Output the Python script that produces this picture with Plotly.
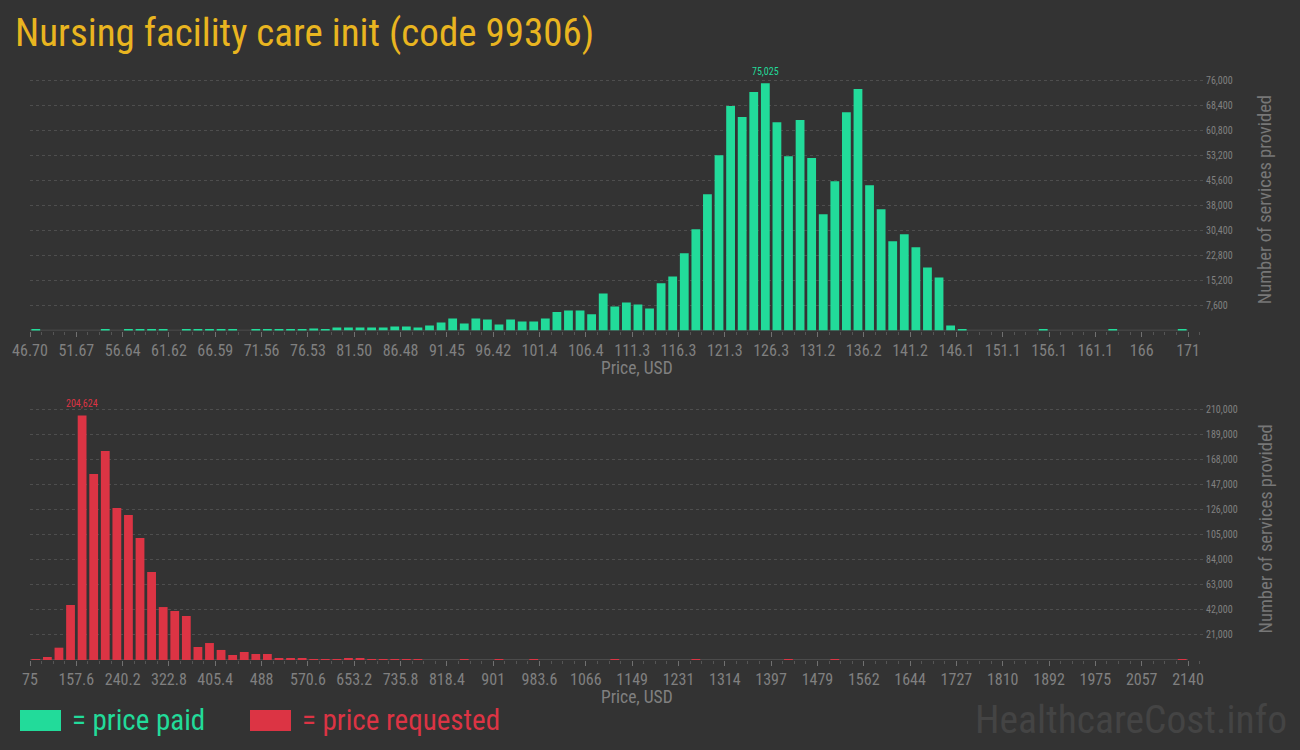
import plotly.graph_objects as go

# ---------------- data ----------------
title_text = "Nursing facility care init (code 99306)"

paid_bin_start = 46.70
paid_bin_end = 171.0
paid_counts = [
    250, 0, 0, 0, 0, 0, 250, 0, 250, 250,
    250, 250, 0, 250, 250, 250, 250, 250, 0, 250,
    250, 250, 250, 250, 600, 300, 900, 900, 900, 900,
    900, 1200, 1200, 900, 1500, 2400, 3650, 2150, 3650, 3350,
    1850, 3350, 2750, 2750, 3650, 5600, 6100, 6100, 4900, 11250,
    7300, 8500, 7900, 6700, 14300, 16400, 23400, 30700, 41300, 53200,
    68100, 64750, 72350, 75025, 63200, 52900, 63850, 52300, 35250, 45300,
    66250, 73250, 44100, 36800, 27050, 29200, 25250, 19150, 16100, 1500,
    300, 0, 0, 0, 0, 0, 0, 300, 0, 0,
    0, 0, 0, 300, 0, 0, 0, 0, 0, 300,
]
paid_tick_labels = ["46.70", "51.67", "56.64", "61.62", "66.59", "71.56", "76.53",
                    "81.50", "86.48", "91.45", "96.42", "101.4", "106.4", "111.3",
                    "116.3", "121.3", "126.3", "131.2", "136.2", "141.2", "146.1",
                    "151.1", "156.1", "161.1", "166", "171"]
paid_y_ticks = [7600, 15200, 22800, 30400, 38000, 45600, 53200, 60800, 68400, 76000]

req_bin_start = 75.0
req_bin_end = 2140.0
req_counts = [
    800, 2500, 10300, 46000, 204624, 155600, 174900, 127200, 121300, 102100,
    73600, 44300, 41000, 36800, 10900, 14200, 8400, 4200, 6700, 5000,
    5000, 1700, 1700, 1700, 700, 700, 700, 1700, 1700, 700,
    700, 700, 800, 800, 0, 0, 0, 800, 0, 0,
    800, 0, 0, 800, 0, 0, 0, 0, 0, 0,
    800, 0, 0, 0, 0, 0, 0, 800, 0, 0,
    0, 0, 0, 0, 0, 800, 0, 0, 0, 800,
    0, 0, 0, 0, 0, 0, 0, 0, 0, 0,
    0, 0, 0, 0, 0, 0, 0, 0, 0, 0,
    0, 0, 0, 0, 0, 0, 0, 0, 0, 800,
]
req_tick_labels = ["75", "157.6", "240.2", "322.8", "405.4", "488", "570.6", "653.2",
                   "735.8", "818.4", "901", "983.6", "1066", "1149", "1231", "1314",
                   "1397", "1479", "1562", "1644", "1727", "1810", "1892", "1975",
                   "2057", "2140"]
req_y_ticks = [21000, 42000, 63000, 84000, 105000, 126000, 147000, 168000, 189000, 210000]

# ---------------- style ----------------
W, H = 1300, 750
BG = "#333333"
GREEN = "#22DB9A"
RED = "#DC3444"
GOLD = "#E9B520"
GRAY = "#808080"
FONT = "Roboto Condensed, DejaVu Sans Condensed, Liberation Sans Narrow, Roboto, sans-serif"


def px(x):
    return x / W


def py(y):
    return 1 - y / H


fig = go.Figure()


def add_panel(idx, counts, start, end, tick_labels, yticks, color,
              x_left, x_axis_end, x_plot_end, y_zero, y_top_tick, y_plot_top):
    n = len(counts)
    w = (end - start) / n
    centers = [start + (i + 0.5) * w for i in range(n)]
    xa = "x" if idx == 1 else "x2"
    ya = "y" if idx == 1 else "y2"
    fig.add_trace(go.Bar(x=centers, y=counts, marker_color=color, marker_line_width=0,
                         xaxis=xa, yaxis=ya, hoverinfo="x+y", showlegend=False))
    ppu = (x_axis_end - x_left) / (end - start)
    xmax = end + (x_plot_end - x_axis_end) / ppu
    top_val = yticks[-1]
    ymax = top_val * (y_zero - y_plot_top) / (y_zero - y_top_tick)
    tickvals = [start + i * 4 * w for i in range(len(tick_labels))]
    xkey = "xaxis" if idx == 1 else "xaxis2"
    ykey = "yaxis" if idx == 1 else "yaxis2"
    fig.update_layout(**{
        xkey: dict(domain=[px(x_left), px(x_plot_end)], range=[start, xmax],
                   anchor=ya, tickvals=tickvals, ticktext=tick_labels, automargin=False,
                   ticks="outside", ticklen=5, tickcolor="#707070", tickwidth=1,
                   minor=dict(tick0=start, dtick=w, ticks="outside", ticklen=3,
                              tickcolor="#555555", showgrid=False),
                   showgrid=False, zeroline=False, showline=False,
                   tickfont=dict(family=FONT, size=16, color=GRAY)),
        ykey: dict(domain=[py(y_zero), py(y_plot_top)], range=[0, ymax],
                   anchor=xa, side="right", tickvals=yticks, tickformat=",d",
                   automargin=False,
                   showgrid=True, gridcolor="#4e4e4e", griddash="dot", gridwidth=1,
                   zeroline=False, showline=False, ticks="",
                   tickfont=dict(family=FONT, size=10, color=GRAY)),
    })
    # axis baseline
    fig.add_shape(type="line", xref=xa, yref=ya, x0=start, x1=end, y0=0, y1=0,
                  line=dict(color="#555555", width=1.5), layer="below")
    # peak label
    pk = max(range(n), key=lambda i: counts[i])
    fig.add_annotation(xref=xa, yref=ya, x=centers[pk], y=counts[pk],
                       text=f"{counts[pk]:,}", showarrow=False, yanchor="bottom",
                       yshift=4, font=dict(family=FONT, size=10, color=color))
    # axis titles
    fig.add_annotation(xref="paper", yref="paper", x=px(637), y=py(y_zero + 37),
                       text="Price, USD", showarrow=False, xanchor="center", yanchor="middle",
                       font=dict(family=FONT, size=17.5, color=GRAY))
    fig.add_annotation(xref="paper", yref="paper", x=px(1265), y=py((y_zero + y_top_tick) / 2 - 5),
                       text="Number of services provided", showarrow=False, textangle=-90,
                       xanchor="center", yanchor="middle",
                       font=dict(family=FONT, size=18.5, color="#777777"))


add_panel(1, paid_counts, paid_bin_start, paid_bin_end, paid_tick_labels, paid_y_ticks, GREEN,
          x_left=30, x_axis_end=1188, x_plot_end=1205, y_zero=330.5, y_top_tick=80, y_plot_top=62)
add_panel(2, req_counts, req_bin_start, req_bin_end, req_tick_labels, req_y_ticks, RED,
          x_left=30, x_axis_end=1188, x_plot_end=1205, y_zero=660, y_top_tick=409, y_plot_top=392)

# title
fig.add_annotation(xref="paper", yref="paper", x=px(13), y=py(33), text=title_text,
                   showarrow=False, xanchor="left", yanchor="middle",
                   font=dict(family=FONT, size=39, color=GOLD))

# legend
for (x0, label, col) in [(20, "= price paid", GREEN), (250, "= price requested", RED)]:
    fig.add_shape(type="rect", xref="paper", yref="paper", x0=px(x0), x1=px(x0 + 41),
                  y0=py(731), y1=py(710), fillcolor=col, line_width=0)
    fig.add_annotation(xref="paper", yref="paper", x=px(x0 + 50), y=py(720), text=label,
                       showarrow=False, xanchor="left", yanchor="middle",
                       font=dict(family=FONT, size=29, color=col))

# watermark
fig.add_annotation(xref="paper", yref="paper", x=px(1289), y=py(719), text="HealthcareCost.info",
                   showarrow=False, xanchor="right", yanchor="middle",
                   font=dict(family=FONT, size=39.5, color="#444444"))

fig.update_layout(width=W, height=H, margin=dict(l=0, r=0, t=0, b=0),
                  paper_bgcolor=BG, plot_bgcolor=BG, bargap=0.24, showlegend=False,
                  font=dict(family=FONT))

fig.write_html("out.html", config=dict(displayModeBar=False),
               post_script="document.body.style.margin='0px';document.body.style.background='#333333';")
